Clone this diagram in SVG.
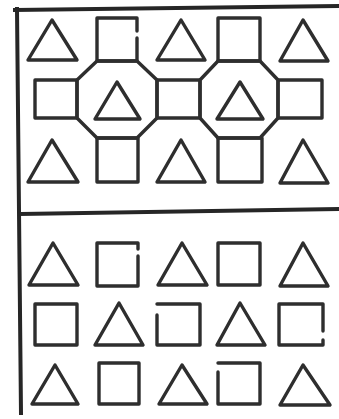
<svg xmlns="http://www.w3.org/2000/svg" width="339" height="419" viewBox="0 0 339 419">
<style>
.s{fill:none;stroke:#2e2e2e;stroke-width:3.4;stroke-linejoin:round;stroke-linecap:round}
.f{fill:none;stroke:#262626;stroke-width:4;stroke-linecap:square}
</style>
<rect width="339" height="419" fill="#ffffff"/>
<g id="frame">
<path class="f" d="M17,9 L21,413"/>
<path class="f" d="M15,10 L339,6"/>
<path class="f" d="M21,214 L339,209"/>
</g>
<g id="top">
<g id="t-r1"><polygon class="s" points="52,20 77,60 28,60"/><path class="s" d="M137,38 V61 H97 V18 H137 V31"/><polygon class="s" points="181,20 205,60 157,60"/><rect class="s" x="218" y="18" width="42" height="43"/><polygon class="s" points="303,20 328,61 280,61"/></g>
<g id="t-oct1"><polygon class="s" points="97,61 137,61 157,80 157,118 137,138 97,138 77,118 77,80"/><polygon class="s" points="117,82 140,119 95,119"/></g>
<g id="t-oct2"><polygon class="s" points="218,61 260,61 278,80 278,118 260,138 218,138 200,118 200,80"/><polygon class="s" points="240,82 263,119 217,119"/></g>
<g id="t-r2"><rect class="s" x="35" y="80" width="42" height="38"/><rect class="s" x="157" y="80" width="43" height="38"/><rect class="s" x="278" y="80" width="44" height="38"/></g>
<g id="t-r3"><polygon class="s" points="52,140 78,182 28,182"/><rect class="s" x="97" y="138" width="41" height="44"/><polygon class="s" points="181,140 205,182 157,182"/><rect class="s" x="218" y="138" width="44" height="44"/><polygon class="s" points="303,140 328,183 280,183"/></g>
</g>
<g id="bottom">
<g id="b-r1"><polygon class="s" points="53,243 78,285 29,285"/><path class="s" d="M138,256 V286 H97 V243 H138 V249"/><polygon class="s" points="182,243 207,285 158,285"/><rect class="s" x="218" y="243" width="42" height="42"/><polygon class="s" points="303,243 328,286 280,286"/></g>
<g id="b-r2"><rect class="s" x="35" y="304" width="42" height="41"/><polygon class="s" points="119,303 143,345 95,345"/><path class="s" d="M157,304 H200 V345 H157 V315"/><polygon class="s" points="240,303 265,345 217,345"/><path class="s" d="M323,331 V304 H279 V345 H323 V340"/></g>
<g id="b-r3"><polygon class="s" points="55,365 78,404 32,404"/><rect class="s" x="99" y="363" width="40" height="41"/><polygon class="s" points="182,365 207,404 159,404"/><path class="s" d="M218,372 V404 H260 V363 H218"/><polygon class="s" points="303,365 330,405 280,405"/></g>
</g>
</svg>
